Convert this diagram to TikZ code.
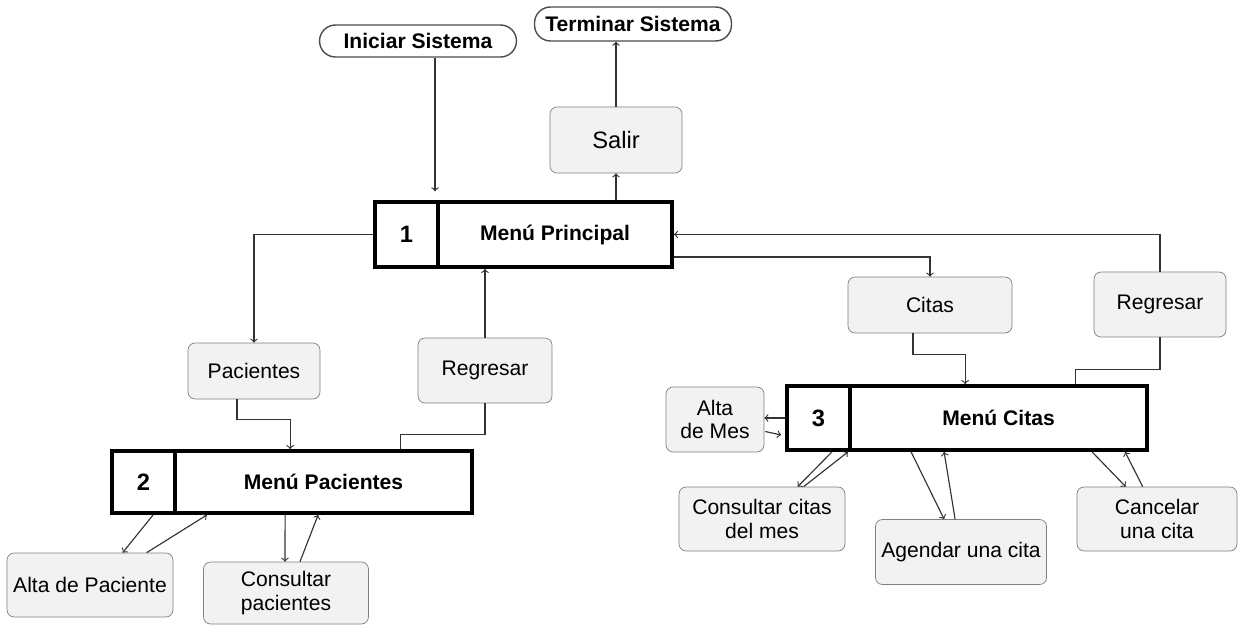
\documentclass[tikz,border=0pt]{standalone}
\usepackage{fontspec}
\setmainfont{Liberation Sans}
\usetikzlibrary{calc}

\begin{document}
\begin{tikzpicture}[x=0.02cm, y=-0.02cm,
	opcion/.style={draw=black!50, fill=black!5, rounded corners=4pt, align=center, font=\fontsize{12}{13.5}\selectfont},
	menu/.style={draw, line width=2.2pt, fill=white, font=\fontsize{12}{14}\selectfont\bfseries},
	num/.style={menu, minimum width=1.26cm, font=\fontsize{13.5}{16}\selectfont\bfseries},
	term/.style={draw=black!70, line width=0.8pt, rounded corners=0.32cm, minimum width=3.94cm, font=\fontsize{12}{14}\selectfont\bfseries},
	flecha/.style={->, draw=black!80, line width=0.65pt},
	linea/.style={draw=black!80, line width=0.65pt}]

\useasboundingbox (0,0) rectangle (1239,625);

% inicio y fin
\node[term, minimum height=0.64cm] (ini) at (418,41) {Iniciar Sistema};
\node[term, minimum height=0.68cm] (ter) at (633,24) {Terminar Sistema};
\node[opcion, minimum width=2.64cm, minimum height=1.32cm, font=\fontsize{13.5}{16}\selectfont] (salir) at (616,140) {Salir};

% menu principal
\node[num, minimum height=1.30cm] (n1) at (406.5,234.5) {1};
\node[menu, minimum width=4.68cm, minimum height=1.30cm] (mp) at (555,234.5) {Menú Principal};

% pacientes
\node[opcion, minimum width=2.64cm, minimum height=1.12cm] (pac) at (254,371) {Pacientes};
\node[opcion, minimum width=2.68cm, minimum height=1.30cm] (reg1) at (485,370.5) {Regresar};
\node[num, minimum height=1.24cm] (n2) at (143.5,482) {2};
\node[menu, minimum width=5.94cm, minimum height=1.24cm] (mpac) at (323.5,482) {Menú Pacientes};
\node[opcion, minimum width=3.32cm, minimum height=1.28cm] (altap) at (90,585) {Alta de Paciente};
\node[opcion, minimum width=3.30cm, minimum height=1.24cm] (conp) at (286,593) {Consultar\\pacientes};

% citas
\node[opcion, minimum width=3.28cm, minimum height=1.12cm] (citas) at (930,305) {Citas};
\node[opcion, minimum width=2.64cm, minimum height=1.30cm] (reg2) at (1160,304.5) {Regresar};
\node[num, minimum height=1.28cm] (n3) at (818.5,418) {3};
\node[menu, minimum width=5.94cm, minimum height=1.28cm] (mcit) at (998.5,418) {Menú Citas};
\node[opcion, minimum width=1.96cm, minimum height=1.30cm] (altam) at (715,419.5) {Alta\\de Mes};
\node[opcion, minimum width=3.32cm, minimum height=1.28cm] (concm) at (762,519) {Consultar citas\\del mes};
\node[opcion, minimum width=3.40cm, minimum height=1.30cm] (agen) at (961,552) {Agendar una cita};
\node[opcion, minimum width=3.20cm, minimum height=1.28cm] (canc) at (1157,519) {Cancelar\\una cita};

% conexiones del menu principal
\draw[flecha, shorten >=5pt] ($(ini.south)+(17,0)$) coordinate (inicio) -- (inicio |- n1.north);
\draw[flecha] (mp.north -| salir.south) -- (salir.south);
\draw[flecha] (salir.north) -- (salir.north |- ter.south);
\draw[flecha] (n1.west) -| (pac.north);
\draw[flecha] (reg1.north) -- (reg1.north |- mp.south);
\draw[flecha] ($(mp.south east)+(0,-12)$) -| (citas.north);
\draw[flecha] (reg2.north) |- (mp.east);

% conexiones de pacientes
\draw[flecha] ($(pac.south)+(-17,0)$) -- ++(0,20) -| ($(mpac.north west)+(117,0)$);
\draw[linea] ($(mpac.north west)+(227,0)$) -- ++(0,-15) -| (reg1.south);
\draw[flecha] ($(n2.south west)+(43,0)$) -- ($(altap.north west)+(116,0)$);
\draw[flecha] ($(altap.north west)+(140,0)$) -- ($(n2.south east)+(30,0)$);
\draw[flecha] ($(mpac.south west)+(112,0)$) -- ($(conp.north)+(-1,0)$);
\draw[flecha] ($(conp.north)+(14,0)$) -- ($(mpac.south west)+(145,0)$);

% conexiones de citas
\draw[flecha] ($(citas.south)+(-17,0)$) -- ++(0,21) -| ($(mcit.north west)+(117,0)$);
\draw[linea] ($(mcit.north west)+(227,0)$) -- ++(0,-15) -| (reg2.south);
\draw[flecha] (n3.west) -- (n3.west -| altam.east);
\draw[flecha] ($(altam.east)+(1,12)$) -- ($(n3.west)+(-4,17)$);
\draw[flecha] ($(n3.south east)+(-20,0)$) -- ($(concm.north west)+(119,0)$);
\draw[flecha] ($(concm.north west)+(125,0)$) -- ($(n3.south east)+(-4,0)$);
\draw[flecha] ($(mcit.south west)+(63,0)$) -- ($(agen.north west)+(69,0)$);
\draw[flecha] ($(agen.north west)+(80,0)$) -- ($(mcit.south west)+(96,0)$);
\draw[flecha] ($(mcit.south west)+(244,0)$) -- ($(canc.north west)+(49,0)$);
\draw[flecha] ($(canc.north west)+(66,0)$) -- ($(mcit.south west)+(277,0)$);

\end{tikzpicture}
\end{document}
